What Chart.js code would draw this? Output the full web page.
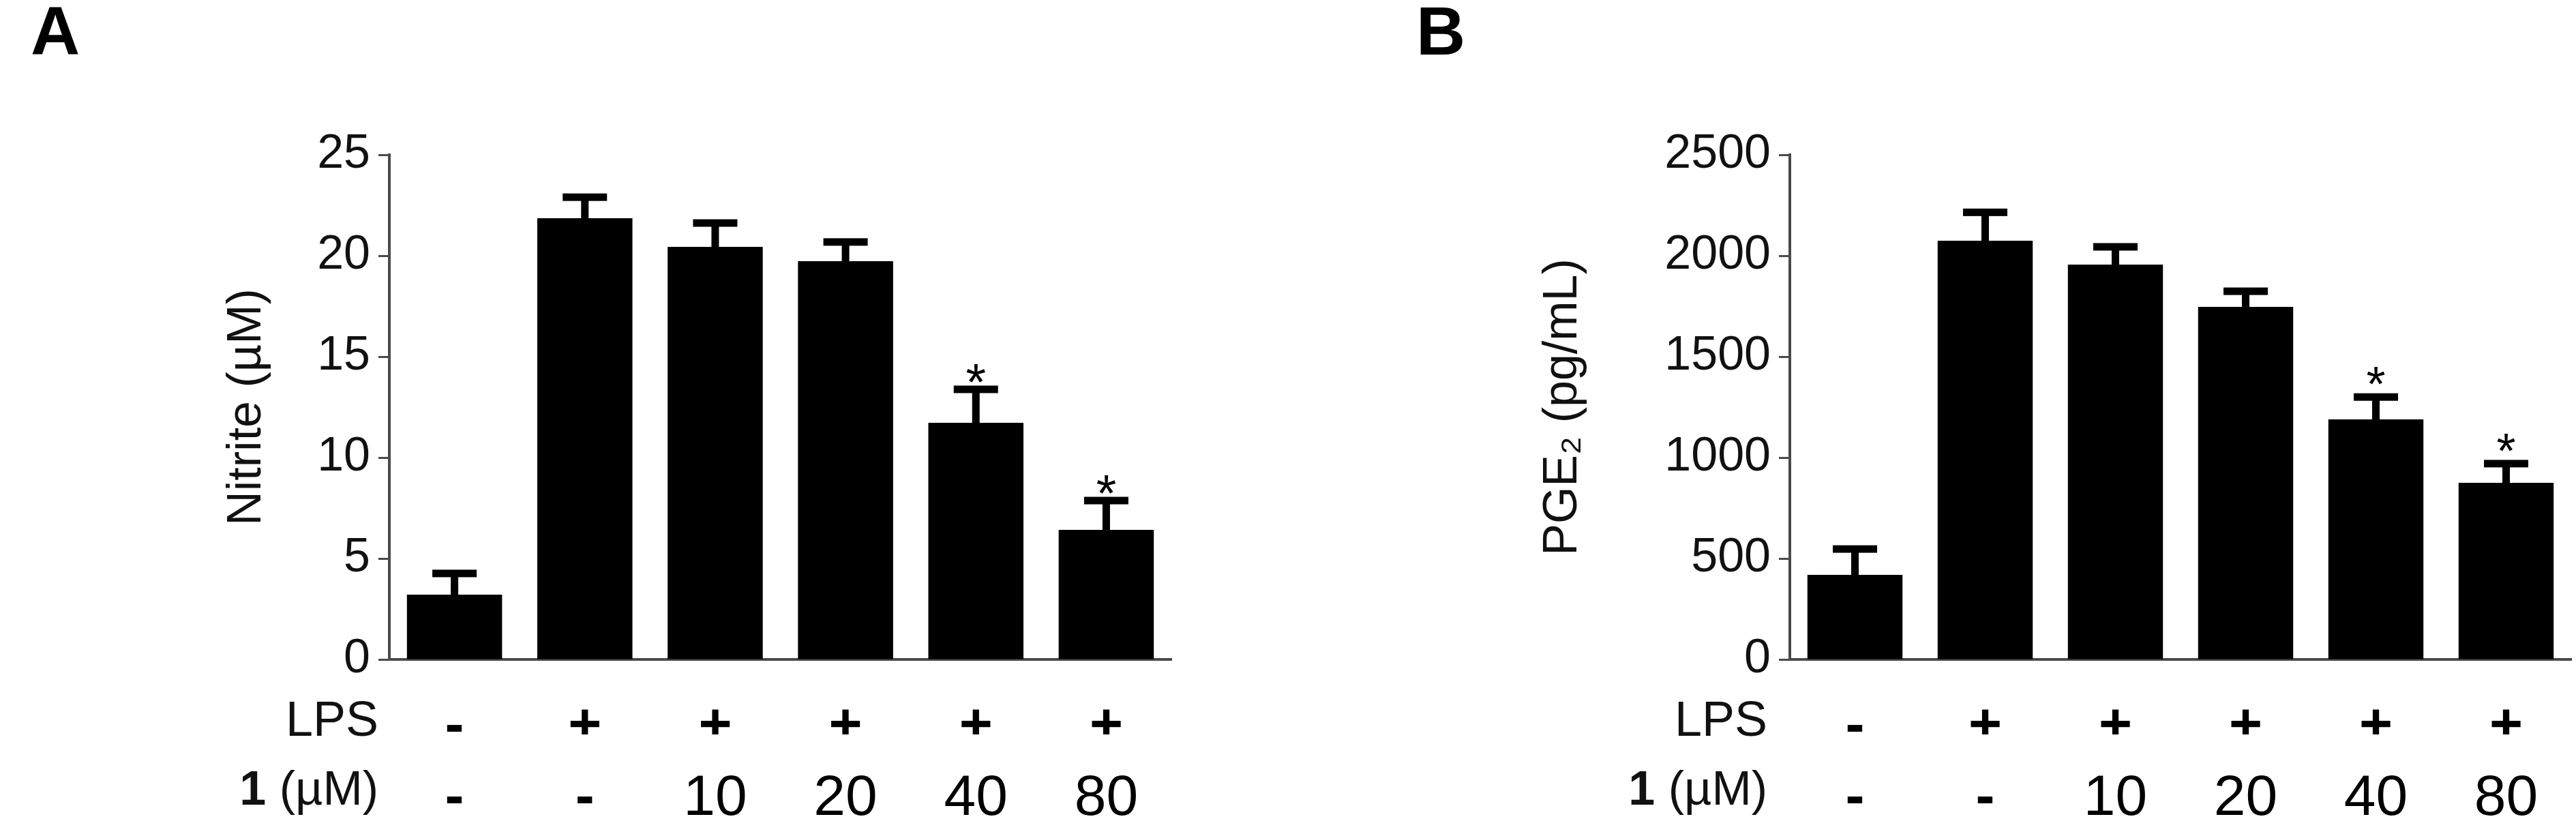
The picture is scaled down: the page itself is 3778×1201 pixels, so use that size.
<!DOCTYPE html>
<html>
<head>
<meta charset="utf-8">
<script src="https://cdn.jsdelivr.net/npm/chart.js@4/dist/chart.umd.min.js"></script>
<style>
  html, body { margin: 0; padding: 0; background: #fff; }
  #wrap { position: relative; width: 3778px; height: 1201px; }
  canvas { position: absolute; top: 0; }
</style>
</head>
<body>
<div id="wrap">
  <canvas id="chartA" width="1889" height="1201" style="left:0"></canvas>
  <canvas id="chartB" width="1889" height="1201" style="left:1889px"></canvas>
</div>
<script>
const groups = ['Control', 'LPS', 'LPS + 1 10', 'LPS + 1 20', 'LPS + 1 40', 'LPS + 1 80'];
const lpsRow = ['-', '+', '+', '+', '+', '+'];
const doseRow = ['-', '-', '10', '20', '40', '80'];

const nitrite = [3.21, 21.86, 20.44, 19.73, 11.72, 6.42];
const nitriteSem = [1.05, 1.04, 1.18, 0.95, 1.66, 1.45];
const nitriteTicks = [0, 5, 10, 15, 20, 25];

const pge2 = [419, 2074, 1956, 1747, 1189, 875];
const pge2Sem = [128, 141, 88, 77, 111, 95];
const pge2Ticks = [0, 500, 1000, 1500, 2000, 2500];

const signif = ['', '', '', '', '*', '*'];

const FONT = "'Liberation Sans', Arial, Helvetica, sans-serif";
const AXIS = '#4a4a4a';

// error bars (upper only) + significance stars
const errorBars = {
  id: 'errorBars',
  afterDatasetsDraw(chart, args, opts) {
    const ctx = chart.ctx;
    const y = chart.scales.y;
    const meta = chart.getDatasetMeta(0);
    const vals = chart.data.datasets[0].data;
    ctx.save();
    ctx.fillStyle = '#000';
    meta.data.forEach((bar, i) => {
      const top = y.getPixelForValue(vals[i] + opts.sem[i]);
      const capH = 11, capW = 65, stemW = 11;
      ctx.fillRect(bar.x - stemW / 2, top, stemW, bar.y - top);
      ctx.fillRect(bar.x - capW / 2, top - capH / 2, capW, capH);
      if (opts.marks[i]) {
        ctx.font = opts.starWeight + ' ' + opts.starSize + 'px ' + FONT;
        ctx.textAlign = 'center';
        ctx.textBaseline = 'alphabetic';
        const centre = top - capH / 2 - opts.starGap;
        ctx.fillText(opts.marks[i], bar.x, centre + 0.58 * opts.starSize);
      }
    });
    ctx.restore();
  }
};

// row headers to the left of the x labels
const rowHeaders = {
  id: 'rowHeaders',
  afterDraw(chart, args, opts) {
    const ctx = chart.ctx;
    const bottom = chart.chartArea.bottom;
    ctx.save();
    ctx.fillStyle = '#111';
    ctx.textAlign = 'right';
    ctx.textBaseline = 'alphabetic';
    ctx.font = '72px ' + FONT;
    ctx.fillText('LPS', opts.right, bottom + 112);
    ctx.font = '70px ' + FONT;
    const rest = ' (\u00b5M)';
    const w = ctx.measureText(rest).width;
    ctx.fillText(rest, opts.right, bottom + 213);
    ctx.font = 'bold 70px ' + FONT;
    ctx.fillText('1', opts.right - w, bottom + 213);
    ctx.restore();
  }
};

function makeChart(id, cfg) {
  return new Chart(document.getElementById(id), {
    type: 'bar',
    data: {
      labels: groups,
      datasets: [{
        data: cfg.values,
        backgroundColor: '#000',
        borderWidth: 0,
        barPercentage: 0.73,
        categoryPercentage: 1.0
      }]
    },
    options: {
      responsive: false,
      animation: false,
      devicePixelRatio: 1,
      layout: { padding: { left: cfg.padLeft, right: cfg.padRight, top: 0, bottom: 0 } },
      plugins: {
        legend: { display: false },
        tooltip: { enabled: false },
        title: {
          display: true,
          text: cfg.letter,
          align: 'start',
          color: '#000',
          font: { family: FONT, size: 100, weight: 'bold', lineHeight: 1 },
          padding: { top: 2, bottom: 125 }
        },
        errorBars: { sem: cfg.sem, marks: signif, starSize: cfg.starSize, starWeight: cfg.starWeight, starGap: cfg.starGap },
        rowHeaders: { right: cfg.headerRight }
      },
      scales: {
        x: {
          type: 'category',
          weight: 0,
          offset: true,
          grid: { display: true, drawOnChartArea: false, drawTicks: false },
          border: { display: true, color: AXIS, width: 4 },
          ticks: {
            color: '#000',
            padding: 49,
            maxRotation: 0,
            autoSkip: false,
            font: { family: FONT, size: 84, weight: 'bold', lineHeight: 1.2 },
            callback: (v, i) => lpsRow[i]
          },
          afterFit: s => { s.height = 110; }
        },
        x2: {
          type: 'category',
          position: 'bottom',
          weight: 1,
          offset: true,
          grid: { display: false },
          border: { display: false },
          ticks: {
            color: '#000',
            padding: 36,
            maxRotation: 0,
            autoSkip: false,
            font: c => ({ family: FONT, size: 84, weight: doseRow[c.index] === '-' ? 'bold' : 'normal', lineHeight: 1.2 }),
            callback: (v, i) => doseRow[i]
          },
          afterFit: s => { s.height = 124; }
        },
        y: {
          min: 0,
          max: cfg.ticks[cfg.ticks.length - 1],
          afterBuildTicks: s => { s.ticks = cfg.ticks.map(v => ({ value: v })); },
          grid: { drawOnChartArea: false, color: AXIS, tickLength: 16, tickWidth: 3 },
          border: { display: true, color: AXIS, width: 4 },
          ticks: {
            color: '#111',
            padding: 12,
            font: { family: FONT, size: 70 },
            callback: v => String(v)
          },
          title: {
            display: true,
            text: cfg.yTitle,
            color: '#111',
            font: { family: FONT, size: 70, lineHeight: 1.2 },
            padding: { top: cfg.titlePad, bottom: 0 }
          },
          afterFit: s => { s.width = cfg.yWidth; }
        }
      }
    },
    plugins: [errorBars, rowHeaders]
  });
}

makeChart('chartA', {
  letter: 'A', values: nitrite, sem: nitriteSem, ticks: nitriteTicks,
  yTitle: 'Nitrite (\u00b5M)',
  padLeft: 45, padRight: 171, yWidth: 526, titlePad: 276,
  headerRight: 555, starSize: 76, starWeight: 'normal', starGap: 24
});

makeChart('chartB', {
  letter: 'B', values: pge2, sem: pge2Sem, ticks: pge2Ticks,
  yTitle: 'PGE\u2082 (pg/mL)',
  padLeft: 188, padRight: 7, yWidth: 548, titlePad: 174,
  headerRight: 703, starSize: 72, starWeight: 'normal', starGap: 30
});
</script>
</body>
</html>
